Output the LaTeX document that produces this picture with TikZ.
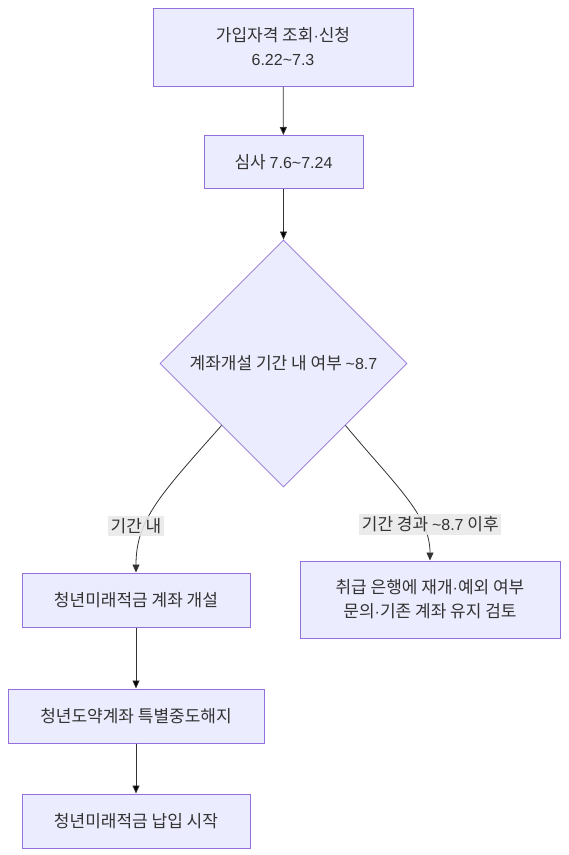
\documentclass[tikz,border=0pt]{standalone}
\usepackage{fontspec}
\setmainfont{Noto Sans CJK KR}
\newfontfamily\latinfont{Liberation Sans}
\usetikzlibrary{shapes.geometric,arrows.meta}
\definecolor{nodefill}{HTML}{ECECFF}
\definecolor{nodeline}{HTML}{9370DB}
\definecolor{ink}{HTML}{333333}
\definecolor{labelbg}{HTML}{E8E8E8}
\newcommand{\boxfont}{\fontsize{17}{24}\selectfont}
\newcommand{\lat}[1]{{\latinfont\fontsize{16}{24}\selectfont #1}}
\begin{document}
\begin{tikzpicture}[x=1pt, y=-1pt,
  box/.style={shape=rectangle, draw=nodeline, fill=nodefill, line width=1pt, text=ink, align=center, inner sep=0pt, font=\boxfont},
  decision/.style={shape=diamond, aspect=1, draw=nodeline, fill=nodefill, line width=0.8pt, text=ink, inner sep=0pt, minimum width=247pt, minimum height=247pt, font=\boxfont},
  flow/.style={-{Triangle[length=8pt,width=7pt]}, draw=ink, line width=0.8pt},
  cond/.style={fill=labelbg, fill opacity=0.85, text opacity=1, text=ink, inner sep=2.5pt, font=\boxfont}]
\useasboundingbox (0,0) rectangle (569,855);
\node[box, minimum width=260pt, minimum height=78pt] (apply) at (283,47) {가입자격 조회\lat{·}신청\\\lat{6.22\textasciitilde 7.3}};
\node[box, minimum width=159pt, minimum height=53pt] (review) at (283.5,162) {심사 \lat{7.6\textasciitilde 7.24}};
\node[decision] (period) at (283.5,363.5) {계좌개설 기간 내 여부 \lat{\textasciitilde 8.7}};
\node[box, minimum width=228pt, minimum height=54pt] (open) at (136,600) {청년미래적금 계좌 개설};
\node[box, minimum width=260pt, minimum height=77pt] (bank) at (430,599.5) {취급 은행에 재개\lat{·}예외 여부\\문의\lat{·}기존 계좌 유지 검토};
\node[box, minimum width=256pt, minimum height=54pt] (cancel) at (136,716) {청년도약계좌 특별중도해지};
\node[box, minimum width=228pt, minimum height=54pt] (start) at (136,821) {청년미래적금 납입 시작};
\path [flow] (apply) edge (review);
\path [flow] (review) edge (period);
\draw [flow] (period.south west) .. controls (160,495) and (136,520) .. (open.north);
\draw [flow] (period.south east) .. controls (395,485) and (430,515) .. (bank.north);
\node[cond] (inlabel) at (136,526) {기간 내};
\node[cond] (outlabel) at (430.3,524.3) {기간 경과 \lat{\textasciitilde 8.7} 이후};
\path [flow] (open) edge (cancel);
\path [flow] (cancel) edge (start);
\end{tikzpicture}
\end{document}
